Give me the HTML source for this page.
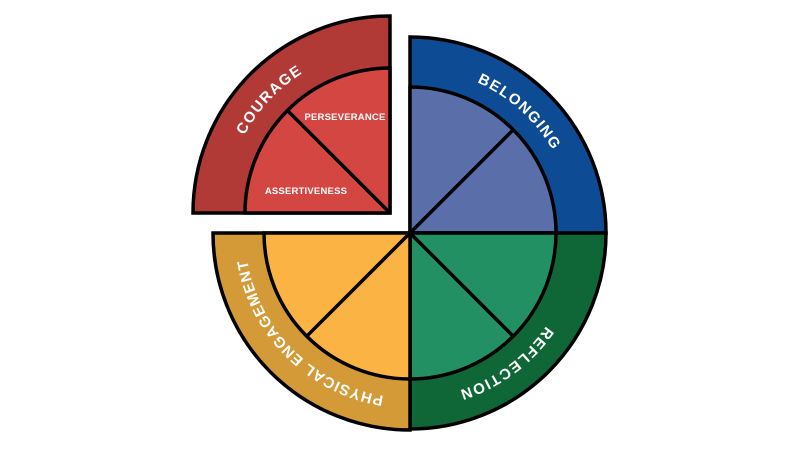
<!DOCTYPE html>
<html><head><meta charset="utf-8"><style>html,body{margin:0;padding:0;background:#fff}svg{display:block}</style></head>
<body>
<svg width="800" height="450" viewBox="0 0 800 450" xmlns="http://www.w3.org/2000/svg">
<defs>
<path id="cc" d="M225,213 A165,165 0 0 1 555,213 A165,165 0 0 1 225,213"/>
<path id="mc" d="M245,233 A165,165 0 0 1 575,233 A165,165 0 0 1 245,233"/>
</defs>
<g stroke="#000" stroke-width="3.5" stroke-linejoin="miter">
<path d="M390,213 L193,213 A197,197 0 0 1 390,16 Z" fill="#B23A36"/>
<path d="M390,213 L245,213 A145,145 0 0 1 390,68 Z" fill="#D34642"/>
<line x1="390" y1="213" x2="287.5" y2="110.5"/>
<path d="M410,233 L410,37 A196,196 0 0 1 606,233 Z" fill="#0D4C94"/>
<path d="M410,233 L410,87 A146,146 0 0 1 556,233 Z" fill="#5A6FAA"/>
<line x1="410" y1="233" x2="513.2" y2="129.8"/>
<path d="M410,233 L606,233 A196,196 0 0 1 410,429 Z" fill="#0F6738"/>
<path d="M410,233 L556,233 A146,146 0 0 1 410,379 Z" fill="#239064"/>
<line x1="410" y1="233" x2="513.2" y2="336.2"/>
<path d="M410,233 L410,430 A197,197 0 0 1 213,233 Z" fill="#D49A37"/>
<path d="M410,233 L410,379 A146,146 0 0 1 264,233 Z" fill="#FBB443"/>
<line x1="410" y1="233" x2="306.8" y2="336.2"/>
</g>
<g font-family="Liberation Sans, sans-serif" font-weight="bold" fill="#fff" font-size="15" letter-spacing="1.5">
<text text-anchor="middle"><textPath href="#cc" startOffset="12%">COURAGE</textPath></text>
<text text-anchor="middle"><textPath href="#mc" startOffset="36.7%">BELONGING</textPath></text>
<text text-anchor="middle"><textPath href="#mc" startOffset="64.9%">REFLECTION</textPath></text>
<text text-anchor="middle" letter-spacing="1"><textPath href="#mc" startOffset="87.5%">PHYSICAL ENGAGEMENT</textPath></text>
</g>
<g font-family="Liberation Sans, sans-serif" font-weight="bold" fill="#fff" font-size="9.5" letter-spacing="0.2">
<text x="345" y="120" text-anchor="middle">PERSEVERANCE</text>
<text x="306" y="194" text-anchor="middle">ASSERTIVENESS</text>
</g>
</svg>
</body></html>
